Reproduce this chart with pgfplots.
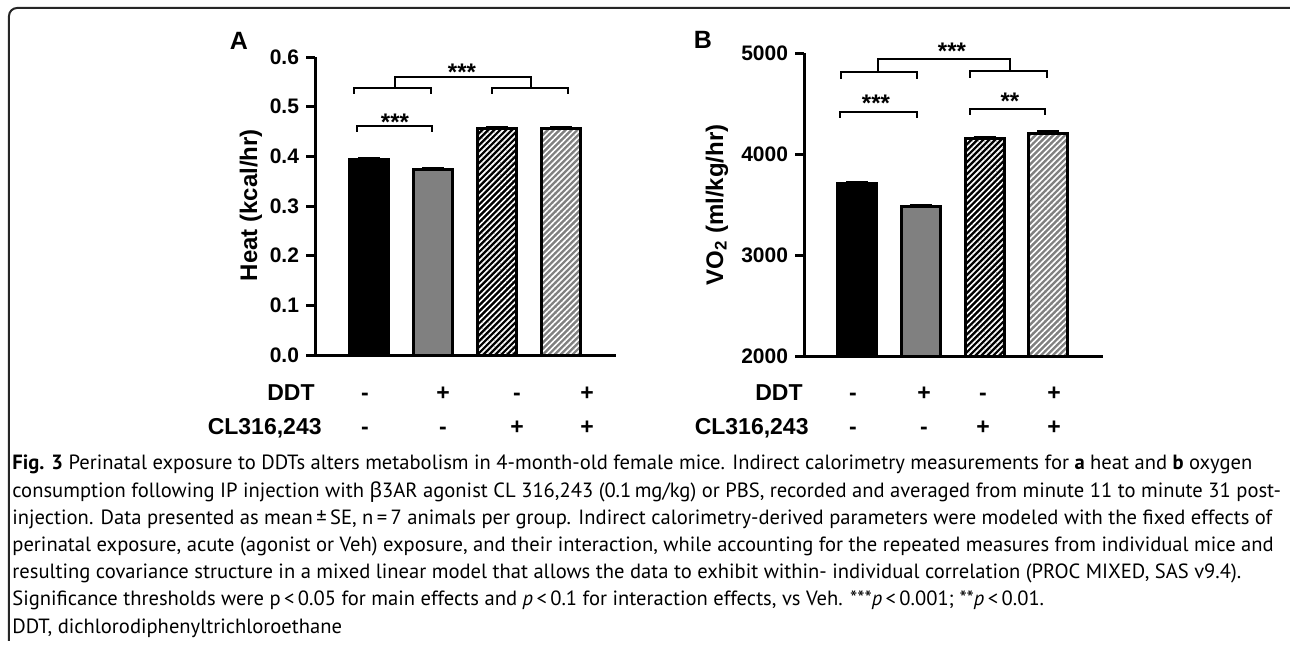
\documentclass[border=0pt]{standalone}
\usepackage{fontspec}
\setmainfont{Liberation Sans}
\newfontfamily\capfont{PT Sans}
\newfontfamily\grkfont{Noto Sans}
\usepackage{pgfplots}
\pgfplotsset{compat=1.18}
\usetikzlibrary{patterns.meta}
\newcommand\lineone{\textbf{Fig. 3} Perinatal exposure to DDTs alters metabolism in 4-month-old female mice. Indirect calorimetry measurements for \textbf{a} heat and \textbf{b} oxygen}
\newlength\Lw
\begin{document}%
\settowidth\Lw{\capfont\fontsize{10pt}{12pt}\selectfont\lineone}%
\pgfmathsetmacro\capfs{6223/\Lw}%
\begin{tikzpicture}
\path[use as bounding box] (0,0) rectangle (645bp,-322.5bp);
\pgfplotsset{
  mybars/.style={
    scale only axis, anchor=south west,
    axis lines*=left,
    axis line style={line width=1.5bp, black},
    xtick=\empty,
    tick align=outside, major tick length=4.5bp,
    tick style={line width=1.5bp, black},
    yticklabel style={font=\bfseries\fontsize{10.5bp}{12bp}\selectfont},
    /pgf/number format/assume math mode=true,
    ybar, bar shift=0pt,
    enlargelimits=false,
    every axis plot/.append style={line width=1.5bp, draw=black},
  },
  errs/.style={error bars/.cd, y dir=plus, y explicit,
    error bar style={line width=1.5bp, black},
    error mark options={rotate=90, mark size=5.5bp, line width=1.5bp, black}},
  hatchA/.style={preaction={fill=black}, pattern={Lines[angle=45,distance=2.1bp,line width=0.8bp]}, pattern color=white},
  hatchB/.style={preaction={fill=black!50}, pattern={Lines[angle=45,distance=2.1bp,line width=0.8bp]}, pattern color=white},
}
% Panel A
\begin{axis}[mybars,
  at={(157.5bp,-177.5bp)}, width=150.5bp, height=149bp,
  xmin=-0.84375, xmax=3.859, ymin=0, ymax=0.6,
  bar width=0.609,
  ytick={0,0.1,0.2,0.3,0.4,0.5,0.6},
  yticklabel style={/pgf/number format/.cd, fixed, fixed zerofill, precision=1},
]
\addplot[fill=black, errs] coordinates {(0,0.393) +- (0,0.002)};
\addplot[fill=black!50, errs] coordinates {(1,0.3745) +- (0,0.002)};
\addplot[hatchA, errs] coordinates {(2,0.457) +- (0,0.002)};
\addplot[hatchB, errs] coordinates {(3,0.457) +- (0,0.002)};
\end{axis}
% Panel B
\begin{axis}[mybars,
  at={(402bp,-178bp)}, width=149.5bp, height=151.5bp,
  xmin=-0.8307, xmax=3.856, ymin=2000, ymax=5000,
  bar width=0.61,
  ytick={2000,3000,4000,5000},
  yticklabel style={/pgf/number format/.cd, set thousands separator={}},
]
\addplot[fill=black, errs] coordinates {(0,3705) +- (0,12)};
\addplot[fill=black!50, errs] coordinates {(1,3480) +- (0,15)};
\addplot[hatchA, errs] coordinates {(2,4150) +- (0,15)};
\addplot[hatchB, errs] coordinates {(3,4200) +- (0,22)};
\end{axis}
\begin{scope}[x=0.5bp, y=-0.5bp, every node/.style={inner sep=0pt}]
% border
\draw[line width=1bp, black!85, rounded corners=4bp] (9,641) -- (9,8) -- (1300,8) -- (1300,30);
% panel letters
\node[font=\bfseries\fontsize{12.5bp}{14bp}\selectfont] at (239,41) {A};
\node[font=\bfseries\fontsize{12.5bp}{14bp}\selectfont] at (703,40) {B};
% y labels
\node[rotate=90, font=\bfseries\fontsize{12bp}{14bp}\selectfont] at (251,205) {Heat (kcal/hr)};
\node[rotate=90, font=\bfseries\fontsize{12bp}{14bp}\selectfont] at (717,205) {VO\textsubscript{2} (ml/kg/hr)};
% brackets A
\begin{scope}[line width=1.3bp]
\draw (354,94) -- (354,88) -- (431,88) -- (431,94);
\draw (492,94) -- (492,88) -- (568,88) -- (568,94);
\draw (395,88) -- (395,77) -- (531,77) -- (531,88);
\draw (357,132) -- (357,126) -- (432,126) -- (432,132);
% brackets B
\draw (841,79) -- (841,72) -- (917,72) -- (917,79);
\draw (970,78) -- (970,71) -- (1047,71) -- (1047,78);
\draw (878,72) -- (878,59) -- (1010,59) -- (1010,71);
\draw (840,118) -- (840,112) -- (917,112) -- (917,118);
\draw (970,115) -- (970,109) -- (1045,109) -- (1045,115);
\end{scope}
\begin{scope}[every node/.style={inner sep=0pt, anchor=base, font=\bfseries\fontsize{12bp}{14bp}\selectfont}]
\node at (462,81) {***};
\node at (395,131) {***};
\node at (952,59) {***};
\node at (876,112) {***};
\node at (1010,110) {**};
\end{scope}
% condition rows
\begin{scope}[every node/.style={inner sep=0pt, anchor=base, font=\bfseries\fontsize{11.5bp}{14bp}\selectfont}]
\node[anchor=base east] at (315,401) {DDT};
\node[anchor=base east] at (322,435) {CL316,243};
\node at (365,401) {-}; \node at (443,401) {+}; \node at (517,401) {-}; \node at (587,401) {+};
\node at (365,435) {-}; \node at (443,435) {-}; \node at (517,435) {+}; \node at (587,435) {+};
\node[anchor=base east] at (803,401) {DDT};
\node[anchor=base east] at (809,435) {CL316,243};
\node at (853,401) {-}; \node at (924,401) {+}; \node at (983,401) {-}; \node at (1054,401) {+};
\node at (853,435) {-}; \node at (924,435) {-}; \node at (983,435) {+}; \node at (1054,435) {+};
\end{scope}
% caption, one node per line
\begin{scope}[every node/.style={inner sep=0pt, anchor=base west, font=\capfont\fontsize{\capfs pt}{13bp}\selectfont}]
\node at (12,470) {\lineone};
\node at (12,497.2) {consumption following IP injection with {\grkfont β}3AR agonist CL 316,243 (0.1\,mg/kg) or PBS, recorded and averaged from minute 11 to minute 31 post-};
\node at (12,524.4) {injection. Data presented as mean\,±\,SE, n\,=\,7 animals per group. Indirect calorimetry-derived parameters were modeled with the fixed effects of};
\node at (12,551.6) {perinatal exposure, acute (agonist or Veh) exposure, and their interaction, while accounting for the repeated measures from individual mice and};
\node at (12,578.8) {resulting covariance structure in a mixed linear model that allows the data to exhibit within- individual correlation (PROC MIXED, SAS v9.4).};
\node at (12,606) {Significance thresholds were p\,<\,0.05 for main effects and \textit{p}\,<\,0.1 for interaction effects, vs Veh. ***\textit{p}\,<\,0.001; **\textit{p}\,<\,0.01.};
\node at (12,633.2) {DDT, dichlorodiphenyltrichloroethane};
\end{scope}
\end{scope}
\end{tikzpicture}%
\end{document}
